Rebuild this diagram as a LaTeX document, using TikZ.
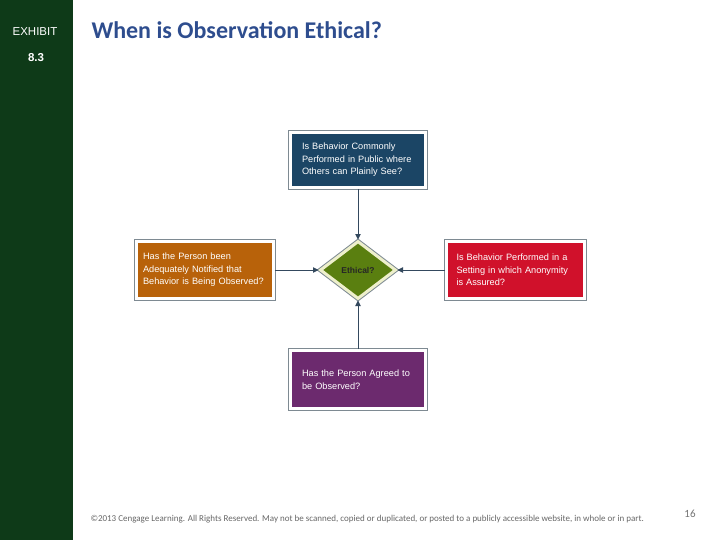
\documentclass[tikz,border=0pt]{standalone}
\usepackage{fontspec}
\setmainfont{Carlito}
\newfontfamily\boxfont{Liberation Sans}
\usetikzlibrary{arrows.meta,shapes.geometric,positioning}

\definecolor{barGreen}{HTML}{0E3A18}
\definecolor{titleBlue}{HTML}{2E4D8E}
\definecolor{pubBlue}{HTML}{1B4565}
\definecolor{notOrange}{HTML}{B8620A}
\definecolor{anonRed}{HTML}{D0112B}
\definecolor{agreePurple}{HTML}{6C2A6E}
\definecolor{ethGreen}{HTML}{5A7F10}
\definecolor{ethCream}{HTML}{EEF0CC}
\definecolor{frameGray}{HTML}{7E8A92}
\definecolor{linkSlate}{HTML}{34495E}

\tikzset{
  qbox/.style={preaction={draw=frameGray, line width=4.6pt},
    draw=white, line width=2.6pt, text=white,
    font=\boxfont\fontsize{9.2}{12.5}\selectfont,
    align=left, inner ysep=0pt, minimum height=55pt},
  link/.style={draw=linkSlate, line width=0.9pt,
    -{Triangle[width=5.5pt,length=5.5pt]}}
}

\begin{document}
\begin{tikzpicture}[x=1pt,y=-1pt]
  \useasboundingbox(0,0)rectangle(720,540);
  % left bar
  \fill[barGreen](0,0)rectangle(73,540);
  \node[text=white,font=\boxfont\fontsize{11.5}{14}\selectfont](exh) at (35,32){EXHIBIT};
  \node[text=white,font=\boxfont\bfseries\fontsize{11.5}{14}\selectfont](num) at (36,58){8.3};
  \node[anchor=west,text=titleBlue,font=\bfseries\fontsize{24}{28}\selectfont](title)
    at (88,30){When is Observation Ethical?};
  % decision
  \node[shape=diamond, preaction={draw=frameGray, line width=5pt},
    draw=ethCream, line width=3pt, fill=ethGreen, inner sep=0pt,
    minimum width=76pt, minimum height=58pt,
    font=\boxfont\bfseries\fontsize{8.5}{10}\selectfont,
    text=black!85](eth) at (358,270){Ethical?};
  % questions
  \node[qbox, fill=pubBlue, text width=112pt, inner xsep=11.5pt](pub)
    at (358,160){Is Behavior Commonly\\Performed in Public where\\Others can Plainly See?};
  \node[qbox, fill=notOrange, text width=124pt, inner xsep=6.5pt, minimum height=57pt](noti)
    at (205,270){Has the Person been\\Adequately Notified that\\Behavior is Being Observed?};
  \node[qbox, fill=anonRed, text width=118pt, inner xsep=10pt, minimum height=57pt](anon)
    at (515.5,270){Is Behavior Performed in a\\Setting in which Anonymity\\is Assured?};
  \node[qbox, fill=agreePurple, text width=112pt, inner xsep=11.5pt, minimum height=58pt](agree)
    at (358,379.5){Has the Person Agreed to\\be Observed?};
  % arrows
  \draw[link](pub.south)--(eth.north);
  \draw[link](noti.east)--(eth.west);
  \draw[link](anon.west)--(eth.east);
  \draw[link](agree.north)--(eth.south);
  % footer
  \node[anchor=west,text=black!60,font=\fontsize{9}{10}\selectfont](copy) at (87,519)
    {©2013 Cengage Learning. All Rights Reserved. May not be scanned, copied or duplicated, or posted to a publicly accessible website, in whole or in part.};
  \node[text=black!55,font=\fontsize{11}{13}\selectfont](page) at (690,514){16};
\end{tikzpicture}
\end{document}
